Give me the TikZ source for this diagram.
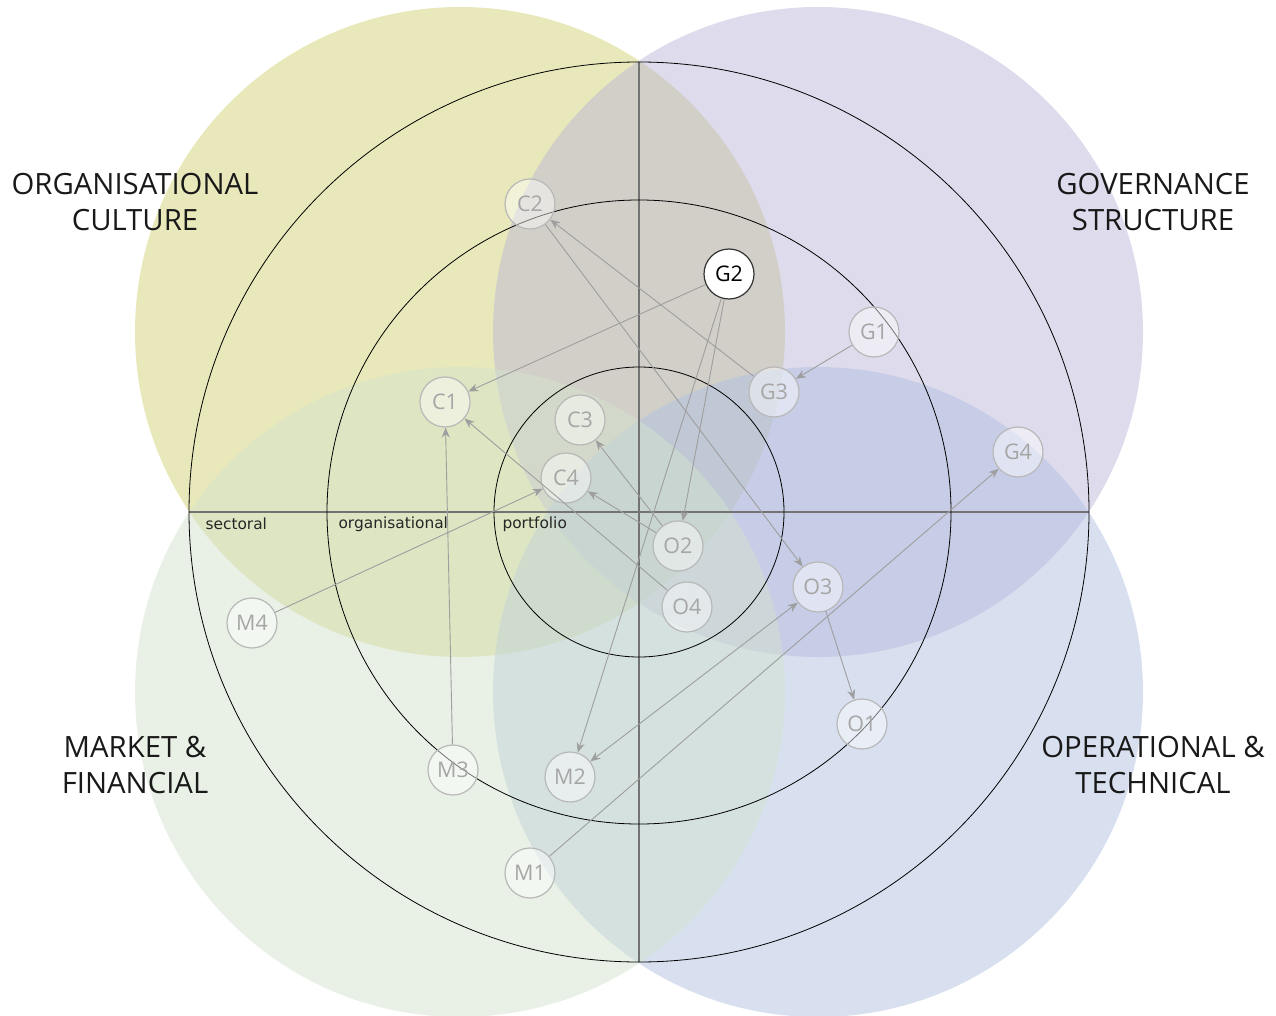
\documentclass[tikz,border=0pt]{standalone}
\usepackage{fontspec}
\setmainfont{Open Sans}
\newfontfamily\ringfont{DejaVu Sans}
\usetikzlibrary{arrows.meta}

\definecolor{cultureclr}{RGB}{209,209,117}
\definecolor{governclr}{RGB}{189,183,217}
\definecolor{technclr}{RGB}{177,193,225}
\definecolor{marketclr}{RGB}{211,227,205}

\begin{document}
\begin{tikzpicture}[x=1pt, y=-1pt,
    factor/.style={circle, minimum size=50pt, inner sep=0pt, draw=black!28, line width=1.2pt,
      fill=white, fill opacity=0.45, text opacity=1, text=black!35, font=\fontsize{21.5}{21.5}\selectfont},
    focusfactor/.style={factor, draw=black!80, fill opacity=1, text=black},
    linkarrow/.style={black!38, line width=0.9pt, -{Stealth[length=10pt, width=8pt]}},
    domaintext/.style={align=center, text=black!90, font=\fontsize{29.3}{36}\selectfont},
    ringlabel/.style={anchor=west, text=black!85, font=\ringfont\fontsize{15.4}{15.4}\selectfont}]
        \useasboundingbox (0,0) rectangle (1276,1016);
        % Domains
        \fill[cultureclr, fill opacity=0.5] (460,332) circle (325pt);
        \fill[governclr, fill opacity=0.5] (818,332) circle (325pt);
        \fill[technclr, fill opacity=0.5] (818,692) circle (325pt);
        \fill[marketclr, fill opacity=0.5] (460,692) circle (325pt);
        \node[domaintext] (culture) at (135,202) {ORGANISATIONAL\\CULTURE};
        \node[domaintext] (govern) at (1153,202) {GOVERNANCE\\STRUCTURE};
        \node[domaintext] (market) at (135,765) {MARKET \&\\FINANCIAL};
        \node[domaintext] (techn) at (1153,765) {OPERATIONAL \&\\TECHNICAL};
        % Levels
        \draw[black!55, line width=1.5pt] (189,512) -- (1089,512);
        \draw[black!55, line width=1.5pt] (639,62) -- (639,962);
        \draw[black, line width=0.8pt] (639,512) circle (450pt);
        \draw[black, line width=0.8pt] (639,512) circle (312pt);
        \draw[black, line width=0.8pt] (639,512) circle (145pt);
        \node[ringlabel] (sectoral) at (202,524) {sectoral};
        \node[ringlabel] (organisational) at (335,524) {organisational};
        \node[ringlabel] (portfolio) at (499,524) {portfolio};
        % Factors
        \node[factor] (c1) at (445,402) {C1};
        \node[factor] (c2) at (530,204) {C2};
        \node[factor] (c3) at (580,420) {C3};
        \node[factor] (c4) at (566,478) {C4};
        \node[factor] (g1) at (874,332) {G1};
        \node[focusfactor] (g2) at (729,274) {G2};
        \node[factor] (g3) at (774,392) {G3};
        \node[factor] (g4) at (1018,452) {G4};
        \node[factor] (o1) at (862,724) {O1};
        \node[factor] (o2) at (678,546) {O2};
        \node[factor] (o3) at (818,587) {O3};
        \node[factor] (o4) at (687,607) {O4};
        \node[factor] (m1) at (530,873) {M1};
        \node[factor] (m2) at (570,777) {M2};
        \node[factor] (m3) at (453,770) {M3};
        \node[factor] (m4) at (252,623) {M4};
        % Links
        \draw[linkarrow] (g2) -- (c1);
        \draw[linkarrow] (g2) -- (o2);
        \draw[linkarrow] (g2) -- (m2);
        \draw[linkarrow] (g1) -- (g3);
        \draw[linkarrow] (g3) -- (c2);
        \draw[linkarrow] (c2) -- (o3);
        \draw[linkarrow] (o3) -- (o1);
        \draw[linkarrow, {Stealth[length=10pt, width=8pt]}-{Stealth[length=10pt, width=8pt]}] (m2) -- (o3);
        \draw[linkarrow] (m1) -- (g4);
        \draw[linkarrow] (m4) -- (c4);
        \draw[linkarrow] (m3) -- (c1);
        \draw[linkarrow] (o4) -- (c1);
        \draw[linkarrow] (o2) -- (c4);
        \draw[linkarrow] (o2) -- (c3);
      \end{tikzpicture}
\end{document}
